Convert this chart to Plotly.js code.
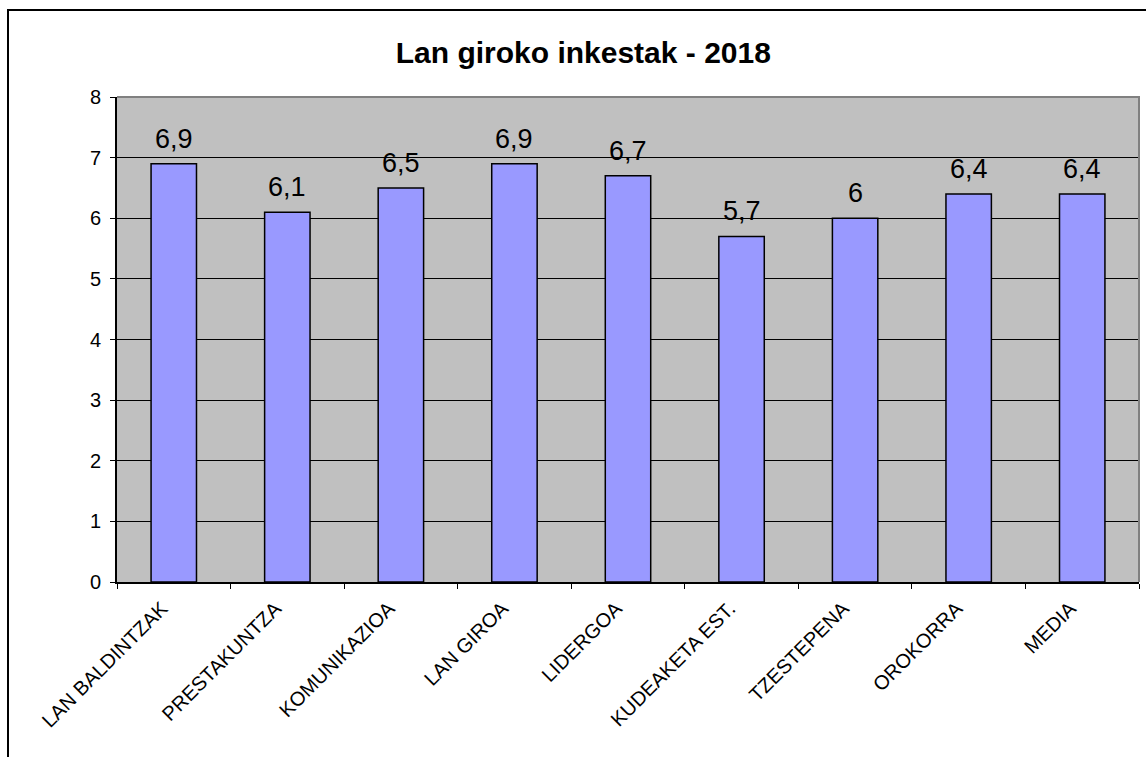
<!DOCTYPE html>
<html>
<head>
<meta charset="utf-8">
<script src="https://cdn.plot.ly/plotly-3.0.1.min.js"></script>
<style>
html,body{margin:0;padding:0;background:#fff;}
#wrap{position:relative;width:1146px;height:757px;overflow:hidden;}
#chart{position:absolute;left:0;top:0;width:1146px;height:757px;}
#frame{position:absolute;left:7px;top:9px;width:1200px;height:800px;border-left:2px solid #000;border-top:2px solid #000;pointer-events:none;}
</style>
</head>
<body>
<div id="wrap"><div id="chart"></div><div id="frame"></div></div>
<script>
const categories = ["LAN BALDINTZAK","PRESTAKUNTZA","KOMUNIKAZIOA","LAN GIROA","LIDERGOA","KUDEAKETA EST.","TZESTEPENA","OROKORRA","MEDIA"];
const values = [6.9, 6.1, 6.5, 6.9, 6.7, 5.7, 6, 6.4, 6.4];
const yTicks = [0,1,2,3,4,5,6,7,8];
const titleText = "Lan giroko inkestak - 2018";

const FONT = "'Liberation Sans', Arial, Helvetica, sans-serif";

const trace = {
  type: 'bar',
  x: categories,
  y: values,
  marker: {color: '#9999FF', line: {color: '#000000', width: 1.5}},
  hoverinfo: 'none'
};

const annotations = categories.map((c, i) => ({
  x: c, y: values[i], xref: 'x', yref: 'y',
  text: String(values[i]).replace('.', ','),
  showarrow: false, yanchor: 'bottom', yshift: 8,
  font: {family: FONT, size: 27, color: '#000'}
}));

const layout = {
  width: 1146, height: 757,
  margin: {l: 117, r: 7, t: 97, b: 175, pad: 0},
  paper_bgcolor: '#ffffff',
  plot_bgcolor: '#C0C0C0',
  font: {family: FONT, color: '#000'},
  showlegend: false,
  bargap: 0.6,
  title: {text: '<b>' + titleText + '</b>', font: {family: FONT, size: 30, color: '#000'},
          x: 0.509, xanchor: 'center', y: 1 - 52/757, yanchor: 'middle'},
  xaxis: {
    type: 'category', tickson: 'boundaries', ticks: 'outside', ticklen: 5, tickcolor: '#000', tickwidth: 1,
    tickangle: -45, tickfont: {family: FONT, size: 20, color: '#000'},
    ticklabelshift: -12, ticklabelstandoff: 5,
    showline: true, linecolor: '#000', linewidth: 2, showgrid: false, zeroline: false,
    fixedrange: true
  },
  yaxis: {
    range: [0, 8], tickvals: yTicks, ticktext: yTicks.map(String),
    ticks: 'outside', ticklen: 5, tickcolor: '#000', tickwidth: 1,
    tickfont: {family: FONT, size: 20, color: '#000'}, ticklabelstandoff: 5,
    showline: true, linecolor: '#000', linewidth: 2,
    showgrid: true, gridcolor: '#000', gridwidth: 1, zeroline: false,
    fixedrange: true
  },
  shapes: [{
    type: 'path', xref: 'paper', yref: 'paper', layer: 'above',
    path: 'M0,1 L1,1 L1,0', line: {color: '#808080', width: 2}
  }],
  annotations: annotations
};

Plotly.newPlot('chart', [trace], layout, {displayModeBar: false, staticPlot: true});
</script>
</body>
</html>
